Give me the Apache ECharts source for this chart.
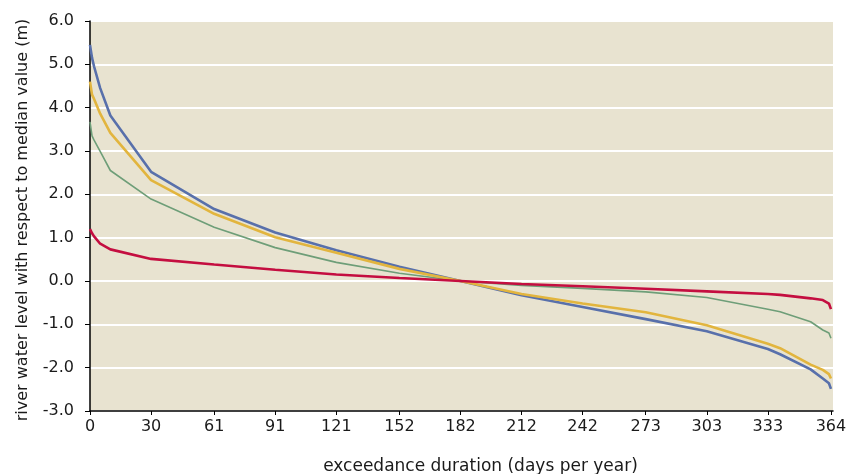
<!DOCTYPE html>
<html>
<head>
<meta charset="utf-8">
<script src="https://cdn.jsdelivr.net/npm/echarts@6/dist/echarts.min.js"></script>
<style>html,body{margin:0;padding:0;background:#fff}#c{width:856px;height:474px}</style>
</head>
<body>
<div id="c"></div>
<script>
var days = [0, 1, 2, 5, 10, 30, 61, 91, 121, 152, 182, 212, 242, 273, 303, 333, 339, 354, 360, 363, 364];
var blueValues   = [5.45, 5.15, 4.95, 4.45, 3.82, 2.52, 1.66, 1.12, 0.71, 0.33, 0.0, -0.33, -0.6, -0.88, -1.16, -1.57, -1.69, -2.04, -2.25, -2.36, -2.49];
var yellowValues = [4.6, 4.3, 4.2, 3.86, 3.42, 2.33, 1.55, 1.01, 0.65, 0.28, 0.0, -0.3, -0.52, -0.72, -1.02, -1.45, -1.55, -1.93, -2.05, -2.15, -2.25];
var greenValues  = [3.67, 3.35, 3.25, 2.99, 2.55, 1.89, 1.24, 0.77, 0.43, 0.18, 0.0, -0.1, -0.17, -0.25, -0.38, -0.65, -0.71, -0.94, -1.13, -1.2, -1.32];
var redValues    = [1.2, 1.1, 1.03, 0.86, 0.73, 0.51, 0.38, 0.26, 0.15, 0.07, 0.0, -0.07, -0.12, -0.18, -0.24, -0.3, -0.32, -0.4, -0.44, -0.52, -0.65];
var xTickValues = [0, 30, 61, 91, 121, 152, 182, 212, 242, 273, 303, 333, 364];

function pairs(vals) { return days.map(function (d, i) { return [d, vals[i]]; }); }

var font = 'DejaVu Sans';
var chart = echarts.init(document.getElementById('c'), null, { renderer: 'canvas' });
function line(name, vals, color, width) {
  return { name: name, type: 'line', data: pairs(vals), symbol: 'none', silent: true,
    lineStyle: { color: color, width: width }, animation: false };
}
chart.setOption({
  animation: false,
  grid: { left: 90, right: 23, top: 21, bottom: 63, show: true, backgroundColor: '#E8E3D0', borderWidth: 0,
    containLabel: false, outerBoundsMode: 'none' },
  xAxis: {
    type: 'value', min: 0, max: 365,
    name: 'exceedance duration (days per year)', nameLocation: 'middle', nameGap: 47,
    nameTextStyle: { fontFamily: font, fontSize: 17, color: '#1a1a1a', padding: [0, 0, 0, 38] },
    axisLine: { show: true, onZero: false, lineStyle: { color: '#000', width: 1.5 } },
    axisTick: { show: true, customValues: xTickValues, length: 4, lineStyle: { color: '#000' } },
    axisLabel: { customValues: xTickValues, fontFamily: font, fontSize: 16, color: '#1a1a1a', margin: 8 },
    splitLine: { show: false }
  },
  yAxis: {
    type: 'value', min: -3, max: 6, interval: 1,
    name: 'river water level with respect to median value (m)', nameLocation: 'middle', nameGap: 59,
    nameTextStyle: { fontFamily: font, fontSize: 16, color: '#1a1a1a', padding: [0, 8, 0, 0] },
    axisLine: { show: true, onZero: false, lineStyle: { color: '#000', width: 1.5 } },
    axisTick: { show: true, length: 5, lineStyle: { color: '#000' } },
    axisLabel: { fontFamily: font, fontSize: 16, color: '#1a1a1a', margin: 16,
      formatter: function (v) { return v.toFixed(1); } },
    splitLine: { show: true, lineStyle: { color: '#ffffff', width: 2 } }
  },
  series: [
    line('green', greenValues, '#6E9E78', 1.6),
    line('blue', blueValues, '#5870AB', 2.6),
    line('yellow', yellowValues, '#E2B53E', 2.6),
    line('red', redValues, '#C40E40', 2.6)
  ]
});
</script>
</body>
</html>
